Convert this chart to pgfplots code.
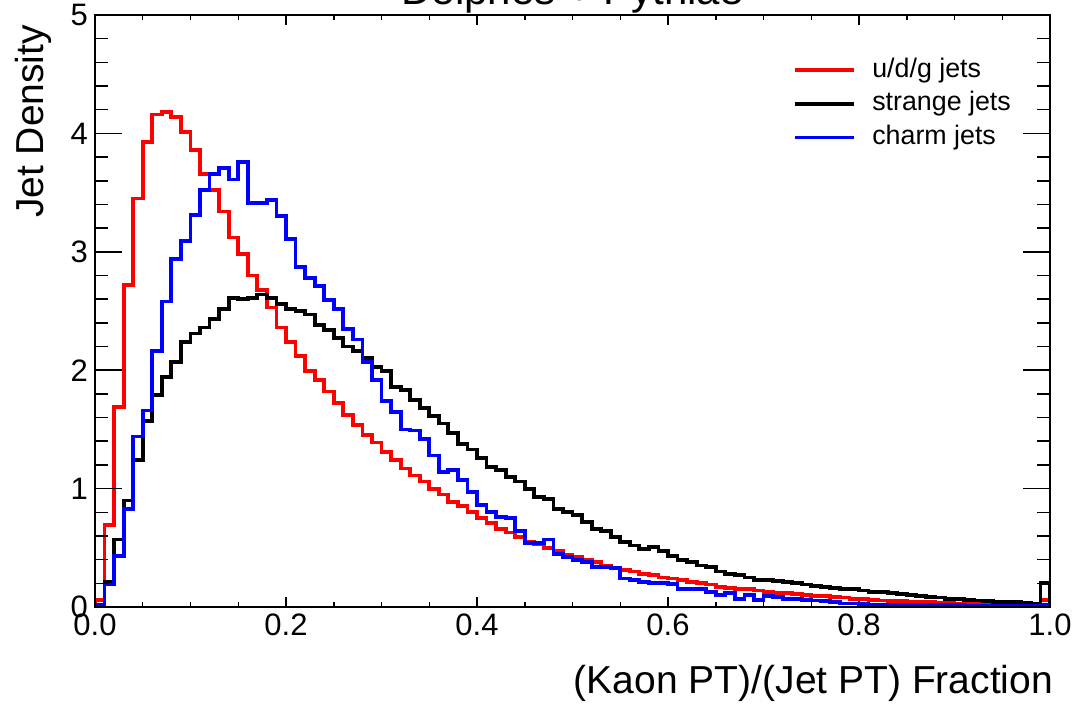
\documentclass[border=0pt]{standalone}
\usepackage{fontspec}
\setmainfont{Liberation Sans}
\usepackage{pgfplots}
\usepackage{pgfplotstable}
\pgfplotsset{compat=1.18}
\definecolor{rootred}{RGB}{255,0,0}
\definecolor{rootblue}{RGB}{0,0,255}
\pgfplotstableread{
x red black blue
0.00 0 0 0
0.00 0.06 0.02 0.02
0.01 0.69 0.21 0.19
0.02 1.69 0.57 0.43
0.03 2.72 0.90 0.83
0.04 3.45 1.24 1.44
0.05 3.93 1.57 1.66
0.06 4.16 1.79 2.16
0.07 4.18 1.94 2.58
0.08 4.14 2.07 2.94
0.09 4.01 2.24 3.09
0.10 3.86 2.31 3.31
0.11 3.66 2.36 3.52
0.12 3.52 2.43 3.66
0.13 3.34 2.52 3.71
0.14 3.12 2.61 3.61
0.15 2.98 2.60 3.76
0.16 2.80 2.61 3.41
0.17 2.68 2.64 3.41
0.18 2.53 2.61 3.44
0.19 2.36 2.56 3.30
0.20 2.24 2.52 3.11
0.21 2.12 2.50 2.87
0.22 1.99 2.47 2.78
0.23 1.92 2.38 2.71
0.24 1.82 2.34 2.59
0.25 1.72 2.27 2.52
0.26 1.62 2.20 2.35
0.27 1.54 2.16 2.26
0.28 1.45 2.10 2.07
0.29 1.39 2.03 1.92
0.30 1.31 1.99 1.74
0.31 1.24 1.86 1.65
0.32 1.17 1.83 1.50
0.33 1.11 1.75 1.49
0.34 1.06 1.68 1.42
0.35 1.00 1.61 1.28
0.36 0.95 1.55 1.14
0.37 0.89 1.47 1.16
0.38 0.85 1.38 1.07
0.39 0.80 1.33 0.97
0.40 0.75 1.26 0.86
0.41 0.71 1.18 0.80
0.42 0.66 1.16 0.76
0.43 0.63 1.10 0.75
0.44 0.59 1.06 0.64
0.45 0.55 1.00 0.54
0.46 0.53 0.93 0.54
0.47 0.50 0.91 0.57
0.48 0.47 0.83 0.45
0.49 0.44 0.80 0.42
0.50 0.42 0.78 0.40
0.51 0.40 0.72 0.38
0.52 0.38 0.66 0.335
0.53 0.35 0.64 0.34
0.54 0.33 0.59 0.33
0.55 0.31 0.55 0.24
0.56 0.30 0.52 0.23
0.57 0.28 0.49 0.21
0.58 0.27 0.51 0.205
0.59 0.25 0.47 0.20
0.60 0.24 0.43 0.195
0.61 0.23 0.40 0.15
0.62 0.21 0.38 0.155
0.63 0.20 0.35 0.15
0.64 0.19 0.34 0.13
0.65 0.17 0.30 0.10
0.66 0.16 0.28 0.115
0.67 0.155 0.27 0.065
0.68 0.15 0.25 0.10
0.69 0.14 0.23 0.06
0.70 0.13 0.23 0.09
0.71 0.12 0.22 0.085
0.72 0.115 0.21 0.07
0.73 0.11 0.20 0.065
0.74 0.10 0.19 0.06
0.75 0.095 0.18 0.055
0.76 0.09 0.17 0.05
0.77 0.085 0.16 0.04
0.78 0.08 0.155 0.03
0.79 0.07 0.15 0.03
0.80 0.065 0.14 0.025
0.81 0.06 0.13 0.02
0.82 0.055 0.125 0.02
0.83 0.05 0.115 0.02
0.84 0.05 0.11 0.02
0.85 0.045 0.10 0.02
0.86 0.04 0.095 0.015
0.87 0.04 0.085 0.015
0.88 0.035 0.08 0.015
0.89 0.035 0.07 0.015
0.90 0.03 0.065 0.015
0.91 0.03 0.06 0.01
0.92 0.03 0.055 0.01
0.93 0.025 0.05 0.01
0.94 0.025 0.045 0.01
0.95 0.025 0.04 0.01
0.96 0.02 0.04 0.01
0.97 0.02 0.035 0.01
0.98 0.02 0.03 0.01
0.99 0.06 0.20 0.02
1.00 0.06 0.20 0.02
1.00 0 0 0
}\histdata
\begin{document}
\begin{tikzpicture}
\path[use as bounding box] (-47.5pt,-50.5pt) rectangle (493.5pt,303.5pt);
\pgfplotsset{
  rootaxis/.style={
    scale only axis, width=477.5pt, height=296pt,
    xmin=0, xmax=1, ymin=0, ymax=5,
    axis line style={line width=0.75pt},
    every tick/.style={line width=0.75pt, black},
    tick align=inside,
    /pgf/number format/assume math mode=true,
    tick label style={font=\fontsize{15.5}{18}\selectfont},
  }
}
\begin{axis}[rootaxis,
  xtick={0,0.2,0.4,0.6,0.8,1.0},
  minor x tick num=3,
  major tick length=5pt, minor tick length=2.5pt,
  ytick=\empty,
  xticklabel style={/pgf/number format/fixed, /pgf/number format/fixed zerofill, /pgf/number format/precision=1},
  legend style={draw=none, fill=none, at={(rel axis cs:0.731,0.928)}, anchor=north west,
    font=\fontsize{13.4}{16}\selectfont, inner sep=0pt, column sep=8pt, row sep=4.6pt,
    nodes={inner sep=0pt, text height=9.5pt, text depth=2.7pt}},
  legend cell align=left,
  legend image code/.code={\draw[#1] (0pt,0pt) -- (29.5pt,0pt);},
]
\addplot[const plot mark left, rootred, line width=1.9pt] table[x=x, y=red] {\histdata};
\addlegendentry{u/d/g jets}
\addplot[const plot mark left, black, line width=1.9pt] table[x=x, y=black] {\histdata};
\addlegendentry{strange jets}
\addplot[const plot mark left, rootblue, line width=1.9pt] table[x=x, y=blue] {\histdata};
\addlegendentry{charm jets}
\end{axis}
\begin{axis}[rootaxis,
  xtick=\empty,
  ytick={0,1,2,3,4,5},
  minor y tick num=4,
  major tick length=13.5pt, minor tick length=6.5pt,
]
\end{axis}
\node[anchor=base, font=\fontsize{21}{25}\selectfont] at (238.75pt,301pt) {Delphes + Pythia8};
\node[anchor=base east, font=\fontsize{19.5}{23}\selectfont] at (482.5pt,-43pt) {(Kaon PT)/(Jet PT) Fraction};
\node[rotate=90, anchor=base east, font=\fontsize{19.5}{23}\selectfont] at (-25.5pt,294.5pt) {Jet Density};
\end{tikzpicture}
\end{document}
